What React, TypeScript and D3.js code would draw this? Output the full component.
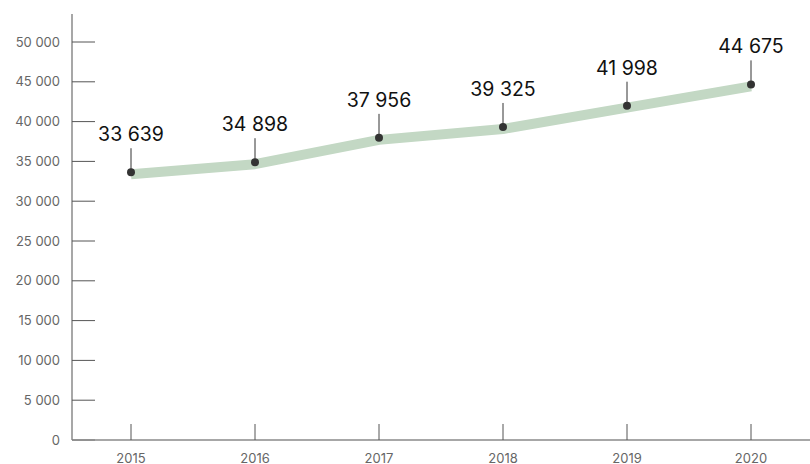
import React from "react";
import * as d3 from "d3";

const years = [2015, 2016, 2017, 2018, 2019, 2020];
const values = [33639, 34898, 37956, 39325, 41998, 44675];
const yTicks = [0, 5000, 10000, 15000, 20000, 25000, 30000, 35000, 40000, 45000, 50000];

const W = 810;
const H = 464;

const fmt = (v: number) => {
  const s = String(v);
  return s.length > 3 ? s.slice(0, s.length - 3) + " " + s.slice(-3) : s;
};

export default function App() {
  const x = d3.scaleLinear().domain([2015, 2020]).range([131, 751]);
  const y = d3.scaleLinear().domain([0, 50000]).range([440, 42]);
  const pts = years.map((yr, i) => ({ yr, v: values[i] }));
  const line = d3
    .line<{ yr: number; v: number }>()
    .x((d) => x(d.yr))
    .y((d) => y(d.v) + 2)
    .curve(d3.curveLinear);

  return (
    <svg
      width={W}
      height={H}
      style={{ position: "absolute", left: 0, top: 0, background: "#fff" }}
      fontFamily="Inter, 'Noto Sans', sans-serif"
    >
      {/* y axis */}
      <line x1={72} x2={72} y1={14} y2={440} stroke="#8a8a8a" strokeWidth={1.5} />
      {yTicks.map((t) => (
        <g key={t}>
          <line x1={72} x2={95} y1={y(t)} y2={y(t)} stroke="#555" strokeWidth={1} />
          <text x={60} y={y(t) + 4.5} textAnchor="end" fontSize={13} fill="#666">
            {fmt(t)}
          </text>
        </g>
      ))}
      {/* x axis */}
      <line x1={72} x2={W} y1={440} y2={440} stroke="#8a8a8a" strokeWidth={1.5} />
      {years.map((yr) => (
        <g key={yr}>
          <line x1={x(yr)} x2={x(yr)} y1={424} y2={440} stroke="#555" strokeWidth={1} />
          <text x={x(yr)} y={463} textAnchor="middle" fontSize={13} fill="#666">
            {yr}
          </text>
        </g>
      ))}
      {/* band line */}
      <path d={line(pts) || ""} fill="none" stroke="#c3d8c4" strokeWidth={10} strokeLinejoin="round" />
      {/* points, leaders, labels */}
      {pts.map((p) => (
        <g key={p.yr}>
          <line x1={x(p.yr)} x2={x(p.yr)} y1={y(p.v) - 24} y2={y(p.v)} stroke="#333" strokeWidth={1} />
          <circle cx={x(p.yr)} cy={y(p.v)} r={4} fill="#333" />
          <text x={x(p.yr)} y={y(p.v) - 31} textAnchor="middle" fontSize={19.5} fill="#111">
            {fmt(p.v)}
          </text>
        </g>
      ))}
    </svg>
  );
}
